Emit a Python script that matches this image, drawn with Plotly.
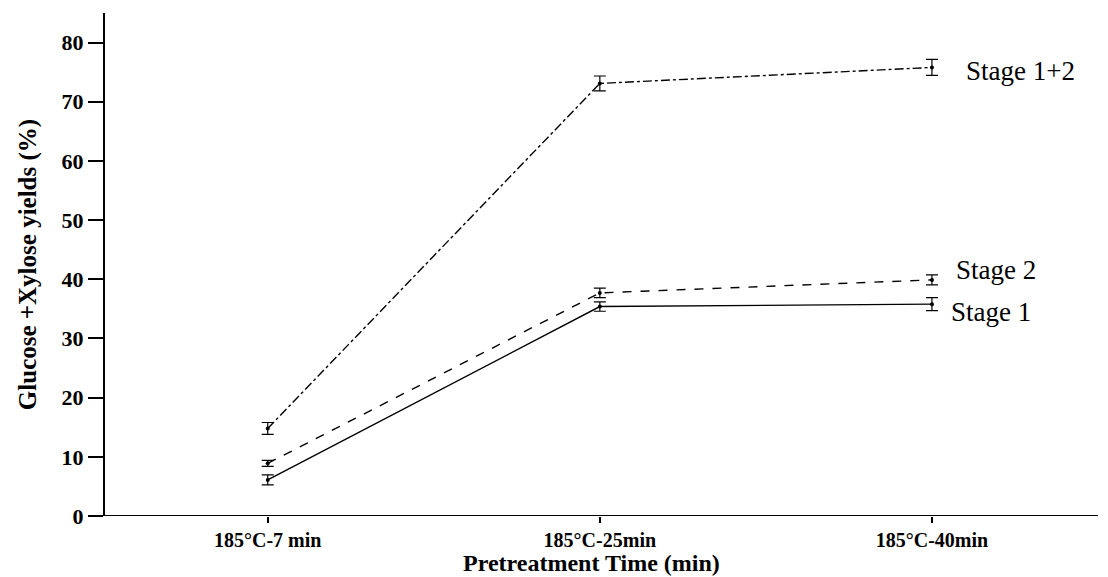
import plotly.graph_objects as go

categories = ["185°C-7 min", "185°C-25min", "185°C-40min"]
x_pos = [0, 1, 2]

stage1 = [6.1, 35.4, 35.8]
stage1_err = [0.85, 0.8, 1.1]
stage2 = [8.9, 37.7, 39.9]
stage2_err = [0.5, 0.8, 0.85]
stage12 = [14.8, 73.1, 75.8]
stage12_err = [1.0, 1.25, 1.35]

series = [
    ("Stage 1", stage1, stage1_err, "solid"),
    ("Stage 2", stage2, stage2_err, "dash"),
    ("Stage 1+2", stage12, stage12_err, "dashdot"),
]

serif = "Liberation Serif, Times New Roman, serif"

fig = go.Figure()
for name, vals, errs, dash in series:
    fig.add_trace(go.Scatter(
        x=x_pos, y=vals, name=name, mode="lines+markers",
        line=dict(color="black", width=1.4, dash=dash),
        marker=dict(color="black", size=4),
        error_y=dict(type="data", array=errs, visible=True,
                     color="black", thickness=1.2, width=6),
        showlegend=False,
    ))

# series names written next to the last point
label_shift = {"Stage 1": -1.3, "Stage 2": 1.6, "Stage 1+2": -0.6}
label_x = {"Stage 1": 2.05, "Stage 2": 2.065, "Stage 1+2": 2.095}
for name, vals, _, _ in series:
    fig.add_annotation(
        x=label_x[name], y=vals[-1] + label_shift[name],
        text=name, showarrow=False, xanchor="left", yanchor="middle",
        font=dict(family=serif, size=27, color="black"),
    )

# x-axis title placed below the category labels
fig.add_annotation(
    xref="paper", yref="paper", x=0.49, y=-0.094,
    text="<b>Pretreatment Time (min)</b>", showarrow=False,
    xanchor="center", yanchor="middle",
    font=dict(family=serif, size=24, color="black"),
)

fig.update_layout(
    width=1108, height=577,
    margin=dict(l=105, r=10, t=13, b=61),
    paper_bgcolor="white", plot_bgcolor="white",
    font=dict(family=serif, color="black"),
    xaxis=dict(
        range=[-0.49, 2.5], tickvals=x_pos, ticktext=categories,
        showline=False, showgrid=False, zeroline=False, automargin=False,
        ticks="outside", ticklen=6, tickwidth=1.5, tickcolor="black",
        tickfont=dict(family=serif, size=20, color="black", weight="bold"),
    ),
    yaxis=dict(
        range=[0, 85], tickvals=list(range(0, 81, 10)),
        showline=True, linecolor="black", linewidth=2.2,
        showgrid=False, zeroline=False, automargin=False,
        ticks="outside", ticklen=15, tickwidth=2, tickcolor="black",
        tickfont=dict(family=serif, size=22, color="black", weight="bold"),
        title=dict(text="<b>Glucose +Xylose yields (%)</b>",
                   font=dict(family=serif, size=25, color="black"), standoff=18),
    ),
)

# horizontal baseline, extending slightly left of the y axis
fig.add_shape(type="line", xref="paper", yref="y",
              x0=-17 / 993, x1=1, y0=0, y1=0,
              line=dict(color="black", width=2.2))

fig.write_html("out.html")
